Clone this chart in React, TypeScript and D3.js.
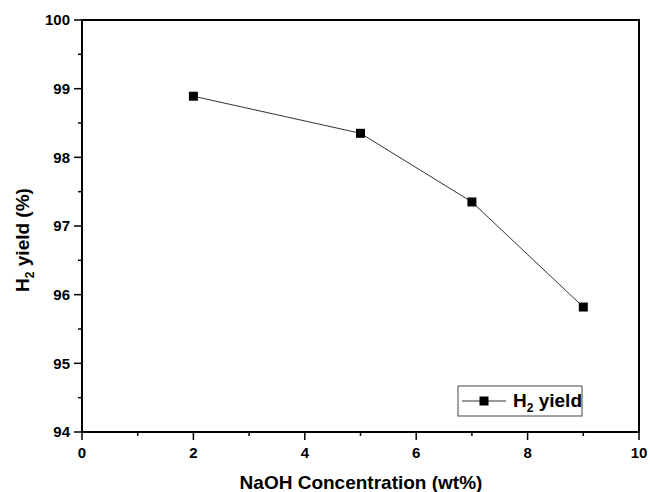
import React from 'react';
import * as d3 from 'd3';

const concentration = [2, 5, 7, 9];
const h2Yield = [98.89, 98.35, 97.35, 95.82];
const xTicks = [0, 2, 4, 6, 8, 10];
const xMinor = [1, 3, 5, 7, 9];
const yTicks = [94, 95, 96, 97, 98, 99, 100];
const yMinor = [94.5, 95.5, 96.5, 97.5, 98.5, 99.5];

const FONT = "'Liberation Sans', Arial, sans-serif";

const width = 650,
  height = 492;
const margin = {top: 20, right: 11, bottom: 60, left: 82};
const w = width - margin.left - margin.right;
const h = height - margin.top - margin.bottom;

const x = d3.scaleLinear().domain([0, 10]).range([0, w]);
const y = d3.scaleLinear().domain([94, 100]).range([h, 0]);

const App = () => {
  const pts = concentration.map((c, i) => [c, h2Yield[i]] as [number, number]);
  const line = d3
    .line<[number, number]>()
    .x(d => x(d[0]))
    .y(d => y(d[1]));
  const txt = {fontFamily: FONT, fontWeight: 'bold' as const, fill: '#000'};

  return (
    <svg width={width} height={height} style={{position: 'absolute', left: 0, top: 0, background: 'white'}}>
      <g transform={`translate(${margin.left},${margin.top})`}>
        {/* minor ticks */}
        {xMinor.map(t => (
          <line key={'xm' + t} x1={x(t)} x2={x(t)} y1={h} y2={h + 4} stroke="#000" strokeWidth={1.5} />
        ))}
        {yMinor.map(t => (
          <line key={'ym' + t} x1={-4} x2={0} y1={y(t)} y2={y(t)} stroke="#000" strokeWidth={1.5} />
        ))}
        {/* major ticks */}
        {xTicks.map(t => (
          <g key={'x' + t} transform={`translate(${x(t)},${h})`}>
            <line y1={0} y2={8} stroke="#000" strokeWidth={1.5} />
            <text y={26} textAnchor="middle" style={{...txt, fontSize: '15px'}}>
              {d3.format('d')(t)}
            </text>
          </g>
        ))}
        {yTicks.map(t => (
          <g key={'y' + t} transform={`translate(0,${y(t)})`}>
            <line x1={-8} x2={0} stroke="#000" strokeWidth={1.5} />
            <text x={-12} dy="0.35em" textAnchor="end" style={{...txt, fontSize: '15px'}}>
              {d3.format('d')(t)}
            </text>
          </g>
        ))}
        <rect width={w} height={h} fill="none" stroke="#000" strokeWidth={2} />

        <path d={line(pts) ?? ''} fill="none" stroke="#333" strokeWidth={1} />
        {pts.map((d, i) => (
          <rect key={i} x={x(d[0]) - 4.5} y={y(d[1]) - 4.5} width={9} height={9} fill="#000" />
        ))}
      </g>

      {/* legend */}
      <g transform="translate(458,386)">
        <rect width={124} height={30} fill="white" stroke="#444" strokeWidth={1} />
        <line x1={4} x2={48} y1={15} y2={15} stroke="#333" strokeWidth={1} />
        <rect x={21.5} y={10.5} width={9} height={9} fill="#000" />
        <text x={55} y={21} style={{...txt, fontSize: '19px'}}>
          H
          <tspan dy={5} style={{fontSize: '12px'}}>
            2
          </tspan>
          <tspan dy={-5}> yield</tspan>
        </text>
      </g>

      {/* axis titles */}
      <text x={361} y={489} textAnchor="middle" style={{...txt, fontSize: '19px'}}>
        NaOH Concentration (wt%)
      </text>
      <text transform="translate(29,240) rotate(-90)" textAnchor="middle" style={{...txt, fontSize: '19px'}}>
        H
        <tspan dy={5} style={{fontSize: '12px'}}>
          2
        </tspan>
        <tspan dy={-5}> yield (%)</tspan>
      </text>
    </svg>
  );
};

export default App;
